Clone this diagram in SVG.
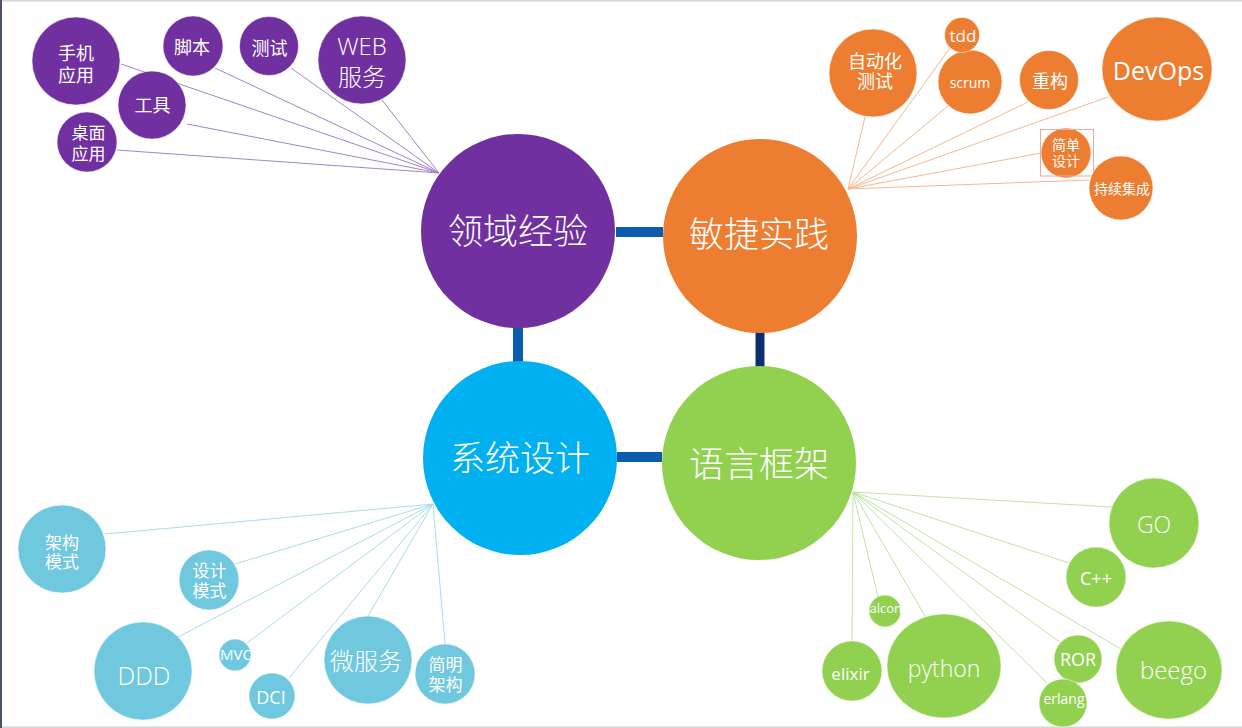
<svg xmlns="http://www.w3.org/2000/svg" width="1242" height="728" viewBox="0 0 1242 728">
<defs>
<style>
text{font-family:"Open Sans","Noto Sans CJK SC",sans-serif;fill:#fff;text-anchor:middle}
.cj{font-family:"Noto Sans CJK SC","Open Sans",sans-serif}
.lt{font-weight:300}
.pu{fill:#7030a0}
.or{fill:#ed7d31}
.bl{fill:#00b0f0}
.lb{fill:#70c8df}
.gr{fill:#92d050}
.sat{stroke:#ffffff;stroke-opacity:0.5;stroke-width:1}
.lp{stroke:#a483c9;stroke-width:1;fill:none}
.lo{stroke:#f5b890;stroke-width:1;fill:none}
.lbl{stroke:#a9dcea;stroke-width:1;fill:none}
.lg{stroke:#c0e3a3;stroke-width:1;fill:none}
.main{font-size:35px}
.s17{font-size:17px}
.s18{font-size:18px}
</style>
<clipPath id="clipMvc"><rect x="218" y="638" width="33" height="34"/></clipPath>
<clipPath id="clipFalcon"><rect x="869" y="594" width="33" height="34"/></clipPath>
</defs>
<rect x="0" y="0" width="1242" height="728" fill="#ffffff"/>
<rect x="0" y="0" width="1242" height="1.5" fill="#d4d6d8"/>
<rect x="0" y="726.5" width="1242" height="1.5" fill="#d4d6d8"/>
<rect x="0" y="0" width="2" height="728" fill="#4a5561"/>

<g id="connectors">
<line x1="616" y1="232" x2="663" y2="232" stroke="#0b5cad" stroke-width="10"/>
<line x1="518" y1="326" x2="518" y2="362" stroke="#0b5cad" stroke-width="10"/>
<line x1="760" y1="331" x2="760" y2="368" stroke="#0b2e6e" stroke-width="9"/>
<line x1="617" y1="457" x2="662" y2="457" stroke="#0b5cad" stroke-width="10"/>
<g class="lp">
<line x1="121" y1="64" x2="439" y2="173"/>
<line x1="215" y1="68" x2="439" y2="173"/>
<line x1="291" y1="68" x2="439" y2="173"/>
<line x1="382" y1="100" x2="439" y2="173"/>
<line x1="187" y1="124" x2="439" y2="173"/>
<line x1="117" y1="150" x2="439" y2="173"/>
</g>
<g class="lo">
<line x1="865" y1="117" x2="848" y2="189"/>
<line x1="950" y1="48" x2="848" y2="189"/>
<line x1="948" y1="106" x2="848" y2="189"/>
<line x1="1028" y1="102" x2="848" y2="189"/>
<line x1="1108" y1="97" x2="848" y2="189"/>
<line x1="1041" y1="153" x2="848" y2="189"/>
<line x1="1089" y1="180" x2="848" y2="189"/>
</g>
<g class="lbl">
<line x1="105" y1="534" x2="433" y2="504"/>
<line x1="235" y1="564" x2="433" y2="504"/>
<line x1="178" y1="637" x2="433" y2="504"/>
<line x1="247" y1="643" x2="433" y2="504"/>
<line x1="289" y1="678" x2="433" y2="504"/>
<line x1="368" y1="616" x2="433" y2="504"/>
<line x1="445" y1="644" x2="433" y2="504"/>
</g>
<g class="lg">
<line x1="1112" y1="507" x2="853" y2="492"/>
<line x1="1069" y1="563" x2="853" y2="492"/>
<line x1="878" y1="597" x2="853" y2="492"/>
<line x1="925" y1="616" x2="853" y2="492"/>
<line x1="852" y1="642" x2="853" y2="492"/>
<line x1="1061" y1="643" x2="853" y2="492"/>
<line x1="1047" y1="683" x2="853" y2="492"/>
<line x1="1121" y1="649" x2="853" y2="492"/>
</g>
</g>

<g id="n-domain"><circle class="pu" cx="518" cy="231" r="97"/><text class="cj main lt" x="518" y="244">领域经验</text></g>
<g id="n-agile"><circle class="or" cx="760" cy="236" r="97"/><text class="cj main lt" x="759" y="247">敏捷实践</text></g>
<g id="n-sysdesign"><circle class="bl" cx="520" cy="458" r="97"/><text class="cj main lt" x="520" y="471">系统设计</text></g>
<g id="n-lang"><circle class="gr" cx="759" cy="463" r="97"/><text class="cj main lt" x="759" y="477">语言框架</text></g>

<g id="n-mobile"><circle class="pu sat" cx="76" cy="61" r="44"/><text class="cj s18" x="76" y="59.5">手机<tspan x="76" y="81.5">应用</tspan></text></g>
<g id="n-script"><circle class="pu sat" cx="193" cy="46" r="30"/><text class="cj s18" x="192" y="54">脚本</text></g>
<g id="n-test"><circle class="pu sat" cx="269" cy="46" r="29.5"/><text class="cj s18" x="269.5" y="54.5">测试</text></g>
<g id="n-web"><circle class="pu sat" cx="362" cy="60" r="44"/><text class="lt" style="font-size:24px" x="362" y="55">WEB<tspan class="cj" x="362" y="86">服务</tspan></text></g>
<g id="n-tool"><circle class="pu sat" cx="152" cy="105" r="34"/><text class="cj s18" x="152.5" y="111.5">工具</text></g>
<g id="n-desktop"><circle class="pu sat" cx="87" cy="142" r="30"/><text class="cj s17" x="88.5" y="139">桌面<tspan x="88.5" y="159.5">应用</tspan></text></g>

<g id="n-autotest"><circle class="or sat" cx="873" cy="73" r="44"/><text class="cj s18" x="875" y="68">自动化<tspan x="875" y="88">测试</tspan></text></g>
<g id="n-scrum"><circle class="or sat" cx="970" cy="82" r="32"/><text style="font-size:14px" x="970" y="88">scrum</text></g>
<g id="n-tdd"><circle class="or sat" cx="962" cy="35" r="17.5"/><text style="font-size:17px" x="963" y="42">tdd</text></g>
<g id="n-refactor"><circle class="or sat" cx="1049" cy="80" r="29.5"/><text class="cj s18" x="1050" y="88">重构</text></g>
<g id="n-devops"><ellipse class="or sat" cx="1157" cy="69" rx="55" ry="52"/><text style="font-size:25px" x="1158.5" y="80">DevOps</text></g>
<g id="n-simple"><circle class="or sat" cx="1066" cy="153" r="25"/><rect x="1040.5" y="129.5" width="53" height="46.5" fill="none" stroke="#eeaa98" stroke-width="1"/><text class="cj" style="font-size:14px" x="1066" y="149.5">简单<tspan x="1066" y="165.5">设计</tspan></text></g>
<g id="n-ci"><circle class="or sat" cx="1121" cy="188" r="32"/><text class="cj" style="font-size:14px" x="1122" y="193.5">持续集成</text></g>

<g id="n-archpattern"><circle class="lb sat" cx="62" cy="549" r="44"/><text class="cj s17" x="62" y="548.5">架构<tspan x="62" y="568">模式</tspan></text></g>
<g id="n-designpattern"><circle class="lb sat" cx="209" cy="580" r="30"/><text class="cj s17" x="209.5" y="577">设计<tspan x="209.5" y="597">模式</tspan></text></g>
<g id="n-ddd"><circle class="lb sat" cx="143" cy="671" r="49"/><text class="lt" style="font-size:25px" x="144" y="685">DDD</text></g>
<g id="n-mvc"><circle class="lb sat" cx="235" cy="655" r="16"/><text clip-path="url(#clipMvc)" style="font-size:15px" x="236" y="660">MVC</text></g>
<g id="n-dci"><circle class="lb sat" cx="272" cy="696" r="23"/><text style="font-size:18px" x="271" y="704">DCI</text></g>
<g id="n-micro"><circle class="lb sat" cx="368" cy="660" r="44"/><text class="cj lt" style="font-size:24px" x="366" y="669.5">微服务</text></g>
<g id="n-cleanarch"><circle class="lb sat" cx="445" cy="674" r="30"/><text class="cj s17" x="445.5" y="670.5">简明<tspan x="445.5" y="691">架构</tspan></text></g>

<g id="n-go"><circle class="gr sat" cx="1154" cy="523" r="45"/><text class="lt" style="font-size:23px" x="1154" y="533">GO</text></g>
<g id="n-cpp"><circle class="gr sat" cx="1096" cy="577" r="30"/><text style="font-size:18px" x="1096" y="585">C++</text></g>
<g id="n-falcon"><circle class="gr sat" cx="885" cy="611" r="16"/><text clip-path="url(#clipFalcon)" style="font-size:13px;text-anchor:start" x="869.5" y="613">alcon</text></g>
<g id="n-python"><ellipse class="gr sat" cx="944" cy="666" rx="57" ry="52"/><text class="lt" style="font-size:23px" x="944" y="677">python</text></g>
<g id="n-elixir"><circle class="gr sat" cx="852" cy="671" r="30"/><text style="font-size:17px" x="850.5" y="680">elixir</text></g>
<g id="n-ror"><circle class="gr sat" cx="1078" cy="659" r="24"/><text style="font-size:18px" x="1078" y="666">ROR</text></g>
<g id="n-erlang"><circle class="gr sat" cx="1063" cy="703" r="24"/><text style="font-size:14px" x="1064" y="704">erlang</text></g>
<g id="n-beego"><ellipse class="gr sat" cx="1169" cy="670" rx="53" ry="49"/><text class="lt" style="font-size:24px" x="1173.5" y="679">beego</text></g>
</svg>
